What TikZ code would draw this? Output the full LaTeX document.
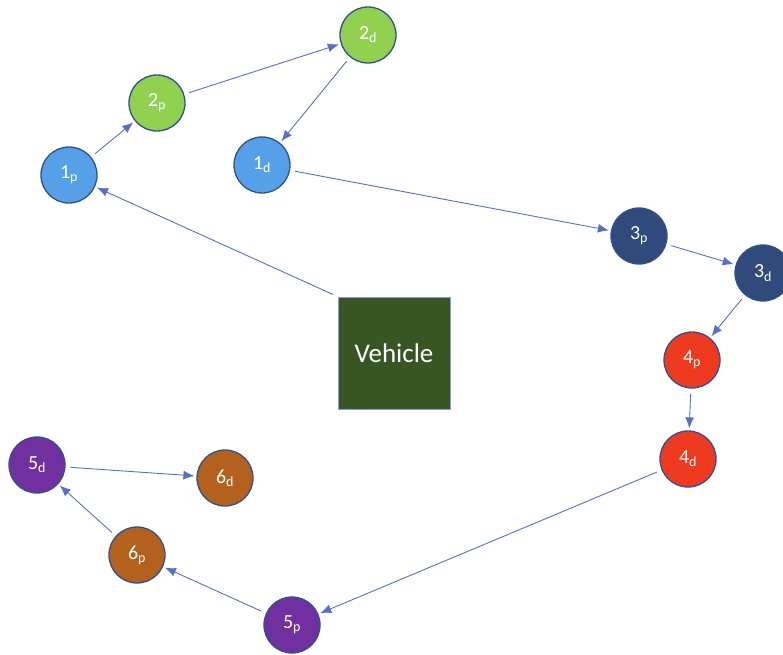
\documentclass[tikz,border=0pt]{standalone}
\usepackage{fontspec}
\setmainfont{Carlito}
\usetikzlibrary{arrows.meta}
\definecolor{stopblue}{HTML}{56A0E8}
\definecolor{stopgreen}{HTML}{92D050}
\definecolor{stopnavy}{HTML}{2F4A7B}
\definecolor{stopred}{HTML}{EE3A1E}
\definecolor{stoppurple}{HTML}{7030A0}
\definecolor{stopbrown}{HTML}{B5611E}
\definecolor{depotgreen}{HTML}{375623}
\definecolor{rimblue}{HTML}{2F528F}
\definecolor{routeblue}{HTML}{5570CC}
\begin{document}
\begin{tikzpicture}[x=1pt,y=-1pt,
    stop/.style={circle,draw=rimblue,line width=1.3pt,minimum size=56pt,inner sep=0pt,
      text=white,font=\fontsize{20}{24}\selectfont},
    depot/.style={rectangle,draw=routeblue!70,line width=1pt,fill=depotgreen,minimum size=112pt,
      inner sep=0pt,text=white,font=\fontsize{27}{32}\selectfont},
    route/.style={draw=routeblue,line width=0.9pt,-{Latex[length=11pt,width=9pt]},
      shorten <=5pt,shorten >=2pt}]
      \useasboundingbox (0,0) rectangle (783,654);
      \draw
        (69,175) node[stop,fill=stopblue] (1p){1\textsubscript{p}}
        (262,165) node[stop,fill=stopblue] (1d){1\textsubscript{d}}
        (157,103) node[stop,fill=stopgreen] (2p){2\textsubscript{p}}
        (368,35) node[stop,fill=stopgreen] (2d){2\textsubscript{d}}
        (639,236) node[stop,fill=stopnavy] (3p){3\textsubscript{p}}
        (763,273) node[stop,fill=stopnavy] (3d){3\textsubscript{d}}
        (692,360) node[stop,fill=stopred] (4p){4\textsubscript{p}}
        (688,459) node[stop,fill=stopred] (4d){4\textsubscript{d}}
        (292,625) node[stop,fill=stoppurple] (5p){5\textsubscript{p}}
        (37,465) node[stop,fill=stoppurple] (5d){5\textsubscript{d}}
        (137,555) node[stop,fill=stopbrown] (6p){6\textsubscript{p}}
        (225,478) node[stop,fill=stopbrown] (6d){6\textsubscript{d}}
        (394,353) node[depot] (veh){Vehicle};
      \begin{scope}[route]
        \draw (veh.north west) to (1p);
        \draw (1p) to (2p);
        \draw (2p) to (2d);
        \draw (2d) to (1d);
        \draw (1d) to (3p);
        \draw (3p) to (3d);
        \draw (3d) to (4p);
        \draw (4p) to (4d);
        \draw (4d) to (5p);
        \draw (5p) to (6p);
        \draw (6p) to (5d);
        \draw (5d) to (6d);
      \end{scope}
    \end{tikzpicture}
\end{document}
